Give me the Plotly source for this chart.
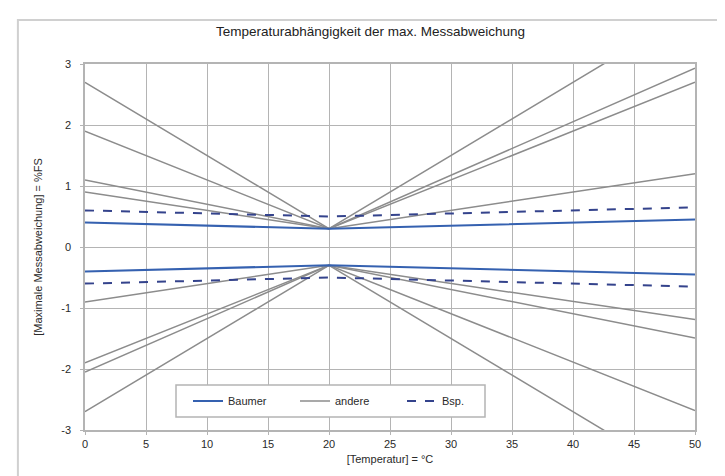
import plotly.graph_objects as go

# x positions of the curve break points (°C)
temps = [0, 20, 50]

# "andere" (grey) curves: values at 0, 20, 50 °C
andere_upper = [
    [2.7, 0.3, 3.9],
    [1.9, 0.3, 2.93],
    [1.1, 0.3, 2.7],
    [0.9, 0.3, 1.2],
]
andere_lower = [
    [-2.7, -0.3, -3.9],
    [-2.05, -0.3, -2.68],
    [-1.9, -0.3, -1.49],
    [-0.9, -0.3, -1.19],
]

# Baumer (solid blue)
baumer_upper = [0.4, 0.3, 0.45]
baumer_lower = [-0.4, -0.3, -0.45]

# Bsp. (dashed blue)
bsp_upper = [0.6, 0.5, 0.65]
bsp_lower = [-0.6, -0.5, -0.65]

x_ticks = [0, 5, 10, 15, 20, 25, 30, 35, 40, 45, 50]
y_ticks = [-3, -2, -1, 0, 1, 2, 3]
y_tick_labels = ["-3", "-2", "-1", "0", "1", "2", "3"]

GREY = "#8c8c8c"
BLUE = "#3561b0"
NAVY = "#34438c"

fig = go.Figure()

for i, vals in enumerate(andere_upper + andere_lower):
    fig.add_trace(go.Scatter(
        x=temps, y=vals, mode="lines", name="andere",
        line=dict(color=GREY, width=1.5),
        legendgroup="andere", showlegend=(i == 0), legendrank=2,
    ))

for i, vals in enumerate([baumer_upper, baumer_lower]):
    fig.add_trace(go.Scatter(
        x=temps, y=vals, mode="lines", name="Baumer",
        line=dict(color=BLUE, width=2),
        legendgroup="baumer", showlegend=(i == 0), legendrank=1,
    ))

for i, vals in enumerate([bsp_upper, bsp_lower]):
    fig.add_trace(go.Scatter(
        x=temps, y=vals, mode="lines", name="Bsp.",
        line=dict(color=NAVY, width=2, dash="dash"),
        legendgroup="bsp", showlegend=(i == 0), legendrank=3,
    ))

font_family = "Liberation Sans, Arial, sans-serif"

fig.update_layout(
    width=725, height=476,
    margin=dict(l=77, r=38, t=56, b=54),
    paper_bgcolor="white", plot_bgcolor="white",
    font=dict(family=font_family, size=11, color="#2a2a2a"),
    title=dict(text="Temperaturabhängigkeit der max. Messabweichung",
               x=0.5, xanchor="center", y=0.952, yanchor="middle",
               font=dict(size=13.5, color="#222222")),
    xaxis=dict(range=[0, 50], tickvals=x_ticks, showgrid=True,
               gridcolor="#b4b4b4", gridwidth=1.2, zeroline=False,
               showline=True, linecolor="#b4b4b4", linewidth=1.5, mirror=True,
               ticks="outside", ticklen=3, tickcolor="#b4b4b4",
               title=dict(text="[Temperatur] = °C", standoff=6,
                          font=dict(size=11)),
               tickfont=dict(size=11)),
    yaxis=dict(range=[-3, 3], tickvals=y_ticks, ticktext=y_tick_labels,
               showgrid=True,
               gridcolor="#b4b4b4", gridwidth=1.2, zeroline=False,
               showline=True, linecolor="#b4b4b4", linewidth=1.5, mirror=True,
               ticks="outside", ticklen=3, tickcolor="#b4b4b4",
               ticklabelstandoff=7,
               title=dict(text="[Maximale Messabweichung] = %FS", standoff=16,
                          font=dict(size=11)),
               tickfont=dict(size=11)),
    legend=dict(orientation="h", x=(180 - 77) / 610, xanchor="left",
                y=(422 - 393) / 366, yanchor="middle",
                bgcolor="rgba(0,0,0,0)", borderwidth=0,
                font=dict(size=11), entrywidth=62, entrywidthmode="pixels",
                itemwidth=30, traceorder="normal"),
    showlegend=True,
    shapes=[
        dict(type="rect", xref="paper", yref="paper",
             x0=-0.11, x1=1.1, y0=-0.17, y1=1.12,
             line=dict(color="#d0d0d0", width=2), layer="below"),
        dict(type="rect", xref="paper", yref="paper",
             x0=(168 - 77) / 610, x1=(477 - 77) / 610,
             y0=(422 - 409) / 366, y1=(422 - 377) / 366,
             fillcolor="white", line=dict(color="#b4b4b4", width=1.5),
             layer="above"),
    ],
)

fig.write_html("out.html")
